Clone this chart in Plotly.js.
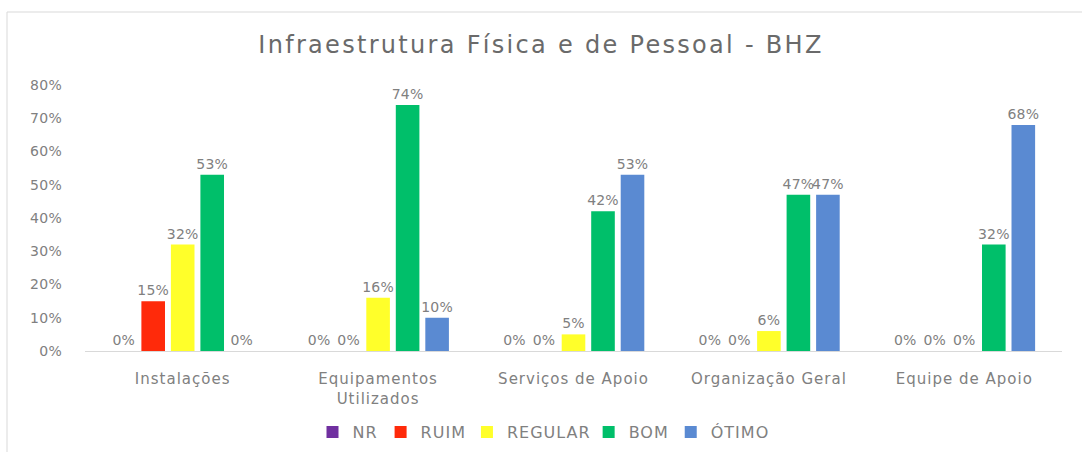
<!DOCTYPE html>
<html>
<head>
<meta charset="utf-8">
<script src="https://cdn.plot.ly/plotly-3.0.1.min.js"></script>
<style>
html,body{margin:0;padding:0;background:#fff;}
#chart{width:1082px;height:452px;}
#chart text{letter-spacing:1px;}
#chart .gtitle{letter-spacing:2.3px;}
#chart .bartext{letter-spacing:0.2px;}
#chart .ytick text{letter-spacing:0.3px;}
</style>
</head>
<body>
<div id="chart"></div>
<script>
const categories = ['Instalações', 'Equipamentos<br>Utilizados', 'Serviços de Apoio', 'Organização Geral', 'Equipe de Apoio'];
const seriesNames = ['NR', 'RUIM', 'REGULAR', 'BOM', 'ÓTIMO'];
const nrValues = [0, 0, 0, 0, 0];
const ruimValues = [15, 0, 0, 0, 0];
const regularValues = [32, 16, 5, 6, 0];
const bomValues = [53, 74, 42, 47, 32];
const otimoValues = [0, 10, 53, 47, 68];
const yTicks = [0, 10, 20, 30, 40, 50, 60, 70, 80];

const seriesValues = [nrValues, ruimValues, regularValues, bomValues, otimoValues];
const colors = ['#7030A0', '#FF2A0A', '#FFFF2A', '#00BF6A', '#5A8AD2'];
const fontFam = '"DejaVu Sans", "Open Sans", sans-serif';
const gray = '#808080';

const traces = seriesNames.map((name, i) => ({
  type: 'bar',
  name: name,
  x: categories,
  y: seriesValues[i],
  marker: {color: colors[i]},
  text: seriesValues[i].map(v => v + '%'),
  textposition: 'outside',
  textfont: {family: fontFam, size: 14, color: gray},
  constraintext: 'none',
  cliponaxis: false,
  hoverinfo: 'none'
}));

const layout = {
  width: 1082,
  height: 452,
  margin: {l: 85, r: 20, t: 85, b: 101},
  paper_bgcolor: '#ffffff',
  plot_bgcolor: '#ffffff',
  font: {family: fontFam, color: gray},
  title: {
    text: 'Infraestrutura Física e de Pessoal - BHZ',
    font: {family: fontFam, size: 24, color: '#6a6a6a'},
    x: 0.5, xref: 'container', xanchor: 'center',
    y: 1 - 45/452, yref: 'container', yanchor: 'middle'
  },
  barmode: 'group',
  bargap: 0.245,
  bargroupgap: 0.2,
  xaxis: {
    showgrid: false,
    showline: true,
    linecolor: '#d9d9d9',
    linewidth: 1,
    ticks: '',
    ticklabelstandoff: 14,
    tickfont: {family: fontFam, size: 15, color: gray},
    zeroline: false,
    automargin: false
  },
  yaxis: {
    range: [0, 80],
    tickvals: yTicks,
    ticktext: yTicks.map(v => v + '%'),
    showgrid: false,
    zeroline: false,
    showline: false,
    ticks: '',
    ticklabelstandoff: 22,
    tickfont: {family: fontFam, size: 14, color: gray},
    automargin: false
  },
  showlegend: true,
  legend: {
    orientation: 'h',
    x: 0.5, xanchor: 'center', xref: 'container',
    y: 1 - 432 / 452, yanchor: 'middle', yref: 'container',
    font: {family: fontFam, size: 16, color: gray},
    itemwidth: 30,
    traceorder: 'normal'
  },
  shapes: [{
    type: 'rect', xref: 'paper', yref: 'paper',
    x0: (7 - 85) / 977, x1: 1.2,
    y0: -0.6, y1: (351 - 12) / 266,
    line: {color: '#d9d9d9', width: 1},
    fillcolor: 'rgba(0,0,0,0)',
    layer: 'below'
  }]
};

Plotly.newPlot('chart', traces, layout, {staticPlot: true, displayModeBar: false});
</script>
</body>
</html>
